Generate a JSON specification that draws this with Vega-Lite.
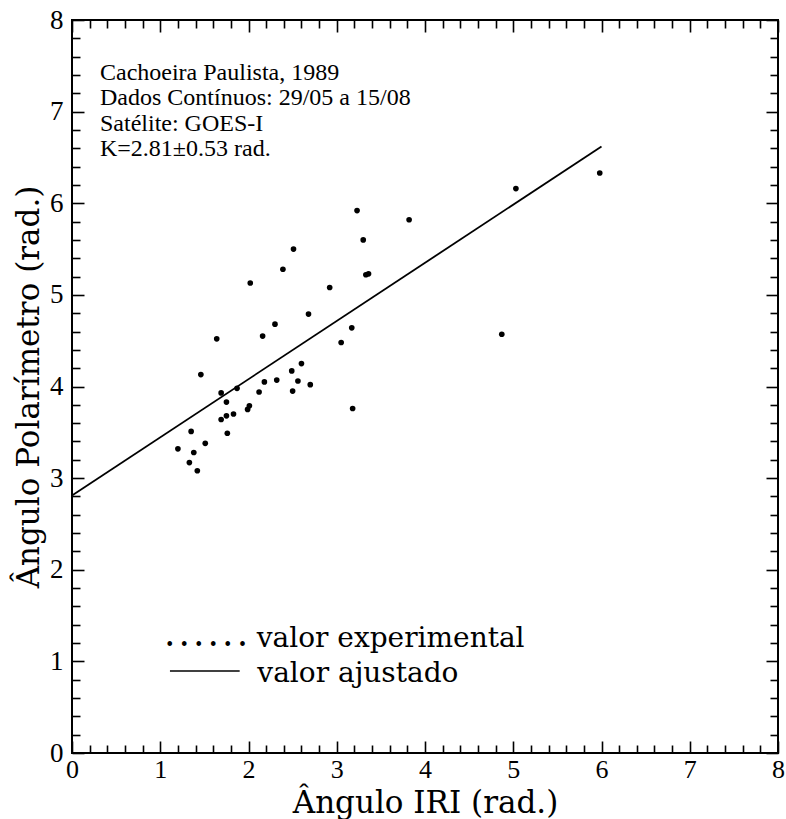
{
  "$schema": "https://vega.github.io/schema/vega-lite/v6.json",
  "width": 706,
  "height": 733,
  "autosize": {"type": "none"},
  "padding": {"left": 72, "top": 20, "right": 8, "bottom": 66},
  "background": "white",
  "config": {
    "view": {"stroke": "black", "strokeWidth": 2},
    "axis": {"grid": false, "domain": false, "tickColor": "black", "labelColor": "black", "titleColor": "black", "tickWidth": 1.6}
  },
  "datasets": {
    "obs": [
      {"x": 3.23, "y": 5.92}, {"x": 3.82, "y": 5.82}, {"x": 3.30, "y": 5.60}, {"x": 2.51, "y": 5.50},
      {"x": 2.39, "y": 5.28}, {"x": 3.33, "y": 5.22}, {"x": 3.36, "y": 5.23}, {"x": 2.02, "y": 5.13},
      {"x": 2.92, "y": 5.08}, {"x": 2.68, "y": 4.79}, {"x": 3.17, "y": 4.64}, {"x": 2.30, "y": 4.68},
      {"x": 3.05, "y": 4.48}, {"x": 2.16, "y": 4.55}, {"x": 1.64, "y": 4.52}, {"x": 1.46, "y": 4.13},
      {"x": 2.60, "y": 4.25}, {"x": 2.49, "y": 4.17}, {"x": 2.56, "y": 4.06}, {"x": 2.70, "y": 4.02},
      {"x": 2.32, "y": 4.07}, {"x": 2.18, "y": 4.05}, {"x": 2.50, "y": 3.95}, {"x": 2.12, "y": 3.94},
      {"x": 1.87, "y": 3.98}, {"x": 1.69, "y": 3.93}, {"x": 1.75, "y": 3.83}, {"x": 2.01, "y": 3.79},
      {"x": 1.99, "y": 3.75}, {"x": 1.83, "y": 3.70}, {"x": 1.75, "y": 3.68}, {"x": 1.69, "y": 3.64},
      {"x": 3.18, "y": 3.76}, {"x": 1.76, "y": 3.49}, {"x": 1.35, "y": 3.51}, {"x": 1.51, "y": 3.38},
      {"x": 1.20, "y": 3.32}, {"x": 1.38, "y": 3.28}, {"x": 1.33, "y": 3.17}, {"x": 1.42, "y": 3.08},
      {"x": 5.03, "y": 6.16}, {"x": 5.98, "y": 6.33}, {"x": 4.87, "y": 4.57}
    ],
    "fit": [{"x": 0, "y": 2.81}, {"x": 6, "y": 6.62}]
  },
  "layer": [
    {
      "data": {"name": "obs"},
      "mark": {"type": "point", "filled": true, "shape": "circle", "size": 32, "color": "black", "opacity": 1},
      "encoding": {
        "x": {"field": "x", "type": "quantitative", "scale": {"domain": [0, 8], "nice": false, "zero": false},
          "axis": {"orient": "bottom", "values": [0, 1, 2, 3, 4, 5, 6, 7, 8], "ticks": false, "labelFont": "Liberation Serif", "labelFontSize": 26, "labelPadding": 3, "labelAngle": 0, "labelFlush": false, "labelOverlap": false, "title": "Ângulo IRI (rad.)", "titleFont": "DejaVu Serif", "titleFontSize": 31, "titleFontWeight": "normal", "titlePadding": 6}},
        "y": {"field": "y", "type": "quantitative", "scale": {"domain": [0, 8], "nice": false, "zero": false},
          "axis": {"orient": "left", "values": [0, 1, 2, 3, 4, 5, 6, 7, 8], "ticks": false, "labelFont": "Liberation Serif", "labelFontSize": 27, "labelPadding": 9, "labelFlush": false, "labelOverlap": false, "title": "Ângulo Polarímetro (rad.)", "titleFont": "DejaVu Serif", "titleFontSize": 31, "titleFontWeight": "normal", "titlePadding": 4}}
      }
    },
    {
      "data": {"name": "fit"},
      "mark": {"type": "line", "color": "black", "strokeWidth": 1.8},
      "encoding": {
        "x": {"field": "x", "type": "quantitative", "scale": {"domain": [0, 8], "nice": false, "zero": false},
          "axis": {"orient": "top", "values": [0, 1, 2, 3, 4, 5, 6, 7, 8], "tickSize": 12, "offset": -12, "labels": false, "title": null}},
        "y": {"field": "y", "type": "quantitative", "scale": {"domain": [0, 8], "nice": false, "zero": false},
          "axis": {"orient": "right", "values": [0, 1, 2, 3, 4, 5, 6, 7, 8], "tickSize": 12, "offset": -12, "labels": false, "title": null}}
      }
    },
    {
      "data": {"values": [{}]},
      "mark": {"type": "text", "text": ["Cachoeira Paulista, 1989", "Dados Contínuos: 29/05 a 15/08", "Satélite: GOES-I", "K=2.81±0.53 rad."], "align": "left", "baseline": "alphabetic", "font": "Liberation Serif", "fontSize": 24, "lineHeight": 25.5, "color": "black"},
      "encoding": {
        "x": {"datum": 0.317, "type": "quantitative", "scale": {"domain": [0, 8], "nice": false, "zero": false},
          "axis": {"orient": "bottom", "values": [0, 1, 2, 3, 4, 5, 6, 7, 8], "tickSize": 12, "offset": -12, "labels": false, "title": null}},
        "y": {"datum": 7.347, "type": "quantitative", "scale": {"domain": [0, 8], "nice": false, "zero": false},
          "axis": {"orient": "left", "values": [0, 1, 2, 3, 4, 5, 6, 7, 8], "tickSize": 12, "offset": -12, "labels": false, "title": null}}
      }
    },
    {
      "data": {"values": [{}]},
      "mark": {"type": "text", "text": "valor experimental", "align": "left", "baseline": "alphabetic", "font": "DejaVu Serif", "fontSize": 28, "color": "black"},
      "encoding": {
        "x": {"datum": 2.093, "type": "quantitative", "scale": {"domain": [0, 8], "nice": false, "zero": false},
          "axis": {"orient": "top", "values": [0.2, 0.4, 0.6, 0.8, 1.2, 1.4, 1.6, 1.8, 2.2, 2.4, 2.6, 2.8, 3.2, 3.4, 3.6, 3.8, 4.2, 4.4, 4.6, 4.8, 5.2, 5.4, 5.6, 5.8, 6.2, 6.4, 6.6, 6.8, 7.2, 7.4, 7.6, 7.8], "tickSize": 8, "offset": -8, "labels": false, "title": null}},
        "y": {"datum": 1.157, "type": "quantitative", "scale": {"domain": [0, 8], "nice": false, "zero": false},
          "axis": {"orient": "right", "values": [0.2, 0.4, 0.6, 0.8, 1.2, 1.4, 1.6, 1.8, 2.2, 2.4, 2.6, 2.8, 3.2, 3.4, 3.6, 3.8, 4.2, 4.4, 4.6, 4.8, 5.2, 5.4, 5.6, 5.8, 6.2, 6.4, 6.6, 6.8, 7.2, 7.4, 7.6, 7.8], "tickSize": 8, "offset": -8, "labels": false, "title": null}}
      }
    },
    {
      "data": {"values": [{}]},
      "mark": {"type": "text", "text": "valor ajustado", "align": "left", "baseline": "alphabetic", "font": "DejaVu Serif", "fontSize": 28, "color": "black"},
      "encoding": {
        "x": {"datum": 2.1, "type": "quantitative", "scale": {"domain": [0, 8], "nice": false, "zero": false},
          "axis": {"orient": "bottom", "values": [0.2, 0.4, 0.6, 0.8, 1.2, 1.4, 1.6, 1.8, 2.2, 2.4, 2.6, 2.8, 3.2, 3.4, 3.6, 3.8, 4.2, 4.4, 4.6, 4.8, 5.2, 5.4, 5.6, 5.8, 6.2, 6.4, 6.6, 6.8, 7.2, 7.4, 7.6, 7.8], "tickSize": 8, "offset": -8, "labels": false, "title": null}},
        "y": {"datum": 0.775, "type": "quantitative", "scale": {"domain": [0, 8], "nice": false, "zero": false},
          "axis": {"orient": "left", "values": [0.2, 0.4, 0.6, 0.8, 1.2, 1.4, 1.6, 1.8, 2.2, 2.4, 2.6, 2.8, 3.2, 3.4, 3.6, 3.8, 4.2, 4.4, 4.6, 4.8, 5.2, 5.4, 5.6, 5.8, 6.2, 6.4, 6.6, 6.8, 7.2, 7.4, 7.6, 7.8], "tickSize": 8, "offset": -8, "labels": false, "title": null}}
      }
    },
    {
      "data": {"values": [{}]},
      "mark": {"type": "text", "text": "• • • • • •", "align": "left", "baseline": "middle", "font": "DejaVu Serif", "fontSize": 16, "color": "black"},
      "encoding": {
        "x": {"datum": 1.054, "type": "quantitative", "scale": {"domain": [0, 8], "nice": false, "zero": false}, "axis": null},
        "y": {"datum": 1.179, "type": "quantitative", "scale": {"domain": [0, 8], "nice": false, "zero": false}, "axis": null}
      }
    },
    {
      "data": {"values": [{}]},
      "mark": {"type": "rule", "color": "black", "strokeWidth": 1.5},
      "encoding": {
        "x": {"datum": 1.11, "type": "quantitative", "scale": {"domain": [0, 8], "nice": false, "zero": false}, "axis": null},
        "x2": {"datum": 1.9},
        "y": {"datum": 0.895, "type": "quantitative", "scale": {"domain": [0, 8], "nice": false, "zero": false}, "axis": null}
      }
    }
  ],
  "resolve": {"axis": {"x": "independent", "y": "independent"}}
}
